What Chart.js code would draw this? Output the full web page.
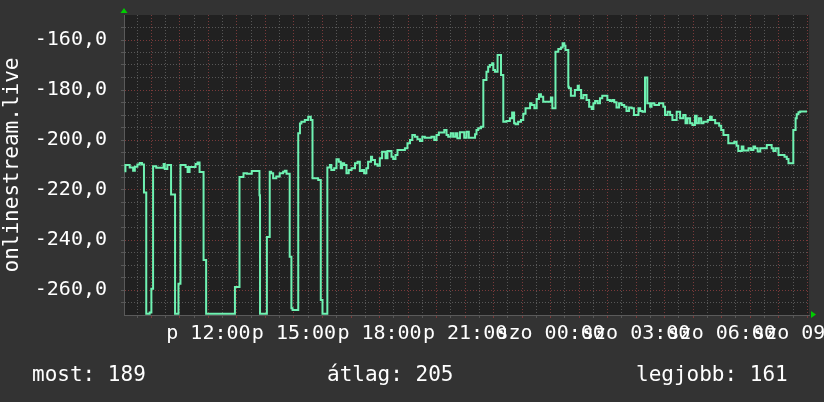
<!DOCTYPE html>
<html><head><meta charset="utf-8">
<script src="https://cdn.jsdelivr.net/npm/chart.js@4"></script>
<style>
html,body{margin:0;padding:0;background:#333333;}
#wrap{position:relative;width:824px;height:402px;overflow:hidden;}
canvas{display:block;}
.stat{position:absolute;top:362px;line-height:24px;font-family:'DejaVu Sans Mono',monospace;font-size:21px;color:#ffffff;white-space:pre;}
</style></head><body>
<div id="wrap"><canvas id="c" width="824" height="402"></canvas>
<div class="stat" id="s0" style="left:32px"></div>
<div class="stat" id="s1" style="left:327px"></div>
<div class="stat" id="s2" style="left:636px"></div>
</div>
<script>
// time of each step start (hours since Friday 00:00)
const times = [9.06,9.09,9.24,9.36,9.42,9.51,9.59,9.67,9.74,9.82,9.94,10.00,10.06,10.17,10.43,10.47,10.56,10.69,10.83,10.95,11.02,11.20,11.27,11.34,11.55,11.62,11.69,11.83,11.92,12.93,13.09,13.23,13.35,13.52,13.79,13.81,14.05,14.15,14.20,14.27,14.38,14.50,14.62,14.68,14.74,14.85,14.91,14.95,15.15,15.21,15.26,15.38,15.50,15.59,15.65,15.85,15.94,16.00,16.17,16.26,16.31,16.41,16.49,16.57,16.64,16.69,16.76,16.84,16.92,17.02,17.14,17.23,17.31,17.39,17.46,17.54,17.60,17.70,17.74,17.84,17.93,18.01,18.09,18.21,18.28,18.42,18.48,18.56,18.63,18.89,18.98,19.07,19.15,19.24,19.33,19.42,19.50,19.59,19.82,19.92,20.00,20.08,20.27,20.35,20.41,20.50,20.58,20.66,20.73,20.82,20.97,21.05,21.13,21.35,21.40,21.46,21.56,21.64,21.75,21.81,21.87,21.95,21.99,22.05,22.14,22.26,22.34,22.45,22.57,22.65,22.72,22.77,22.86,22.96,23.04,23.12,23.28,23.33,23.43,23.51,23.59,23.66,23.74,24.01,24.06,24.17,24.27,24.36,24.42,24.48,24.52,24.62,24.64,24.71,24.85,24.95,24.99,25.07,25.15,25.26,25.35,25.44,25.50,25.56,25.65,25.73,25.81,25.99,26.08,26.16,26.23,26.31,26.40,26.49,26.58,26.66,26.75,26.84,26.92,27.08,27.14,27.22,27.31,27.39,27.49,27.54,27.64,27.80,27.95,28.01,28.10,28.19,28.27,28.42,28.54,28.65,28.73,28.80,28.89,28.97,29.06,29.12,29.20,29.28,29.36,29.51,29.59,29.65,29.77,29.91,29.98,30.06,30.23,30.44,30.52,30.58,30.70,30.76,30.94,31.03,31.11,31.17,31.26,31.35,31.58,31.75,31.81,31.89,31.99,32.20,32.28,32.34,32.51,32.59,32.63,32.69,32.75,32.99];
// onlinestream.live values
const values = [-212.5,-210.0,-211.0,-212.3,-210.7,-209.8,-209.2,-209.8,-221.0,-269.5,-269.0,-259.5,-210.5,-211.1,-209.6,-211.6,-210.0,-221.8,-269.5,-257.5,-210.0,-210.8,-212.8,-210.8,-209.6,-209.0,-212.8,-248.0,-269.5,-258.8,-214.8,-213.3,-213.5,-212.4,-222.1,-269.5,-238.8,-212.7,-213.3,-215.3,-214.6,-213.3,-212.7,-212.3,-213.5,-246.7,-267.3,-268.0,-197.3,-193.4,-192.7,-192.0,-190.7,-192.0,-215.3,-216.0,-264.0,-269.5,-211.0,-210.0,-212.0,-211.3,-207.7,-208.7,-211.3,-209.3,-210.0,-213.3,-212.0,-211.3,-209.3,-208.7,-212.4,-212.0,-213.3,-211.3,-208.7,-206.7,-208.0,-209.7,-210.3,-207.3,-204.7,-207.3,-204.4,-206.7,-207.6,-206.0,-204.0,-203.3,-201.3,-200.0,-198.0,-198.7,-199.7,-200.4,-198.7,-199.1,-198.7,-200.0,-198.0,-197.0,-196.0,-198.0,-198.7,-197.3,-198.7,-197.3,-199.3,-196.9,-199.1,-196.7,-199.1,-197.7,-196.0,-195.3,-194.7,-176.0,-172.7,-170.7,-170.0,-169.3,-172.0,-172.7,-166.0,-174.0,-192.7,-192.4,-191.3,-189.0,-193.3,-193.7,-192.7,-192.0,-189.5,-187.3,-185.3,-186.0,-187.3,-183.6,-181.7,-182.7,-184.7,-183.0,-187.3,-164.7,-163.6,-163.0,-161.3,-162.3,-164.0,-178.7,-179.3,-182.3,-180.0,-178.3,-180.0,-183.3,-182.0,-184.0,-186.7,-187.6,-185.3,-184.4,-185.3,-183.3,-182.3,-184.0,-184.4,-184.0,-184.9,-187.0,-185.3,-186.0,-186.7,-188.4,-187.0,-187.3,-190.0,-187.3,-188.4,-188.7,-175.0,-185.3,-186.7,-185.3,-186.0,-185.3,-186.7,-190.0,-188.7,-190.0,-192.0,-188.7,-191.3,-190.0,-193.3,-191.3,-193.3,-194.0,-190.3,-193.3,-191.3,-193.3,-192.7,-192.0,-190.7,-192.0,-193.3,-194.3,-196.0,-198.0,-201.3,-200.7,-202.3,-204.4,-202.6,-204.2,-203.3,-204.0,-202.6,-203.3,-204.6,-203.3,-202.0,-203.3,-204.4,-203.3,-206.0,-206.7,-207.6,-209.3,-196.0,-191.3,-189.7,-188.9,-188.6,-188.6];
const xLabelHours = [12,15,18,21,24,27,30,33];
const xLabels = ['p 12:00','p 15:00','p 18:00','p 21:00','szo 00:00','szo 03:00','szo 06:00','szo 09:00'];
const yLabelValues = [-260,-240,-220,-200,-180,-160];
const yLabels = ['-260,0','-240,0','-220,0','-200,0','-180,0','-160,0'];
const seriesName = 'onlinestream.live';
const statNames = ['most','átlag','legjobb'];
const statValues = [189,205,161];

const FONT = "'DejaVu Sans Mono', monospace";
const MINOR = '#575757';
const MAJOR = '#7a3a3a';

statNames.forEach((n,i)=>{ document.getElementById('s'+i).textContent = n + ': ' + statValues[i]; });

const bgPlugin = {
  id: 'bg',
  beforeDraw(chart) {
    const {ctx, chartArea: a} = chart;
    ctx.save();
    ctx.fillStyle = '#333333';
    ctx.fillRect(0, 0, chart.width, chart.height);
    ctx.fillStyle = '#212121';
    ctx.fillRect(a.left, a.top, a.right - a.left, a.bottom - a.top);
    ctx.restore();
  },
  afterDraw(chart) {
    const {ctx, chartArea: a} = chart;
    ctx.save();
    ctx.fillStyle = '#00cc00';
    ctx.beginPath();
    ctx.moveTo(a.left - 3.5, a.top - 2);
    ctx.lineTo(a.left + 3.5, a.top - 2);
    ctx.lineTo(a.left, a.top - 7);
    ctx.closePath(); ctx.fill();
    ctx.beginPath();
    ctx.moveTo(a.right + 2, a.bottom - 4);
    ctx.lineTo(a.right + 2, a.bottom + 3);
    ctx.lineTo(a.right + 7, a.bottom - 0.5);
    ctx.closePath(); ctx.fill();
    ctx.restore();
  }
};

const xTicks = [];
for (let i = 19; i <= 66; i++) xTicks.push(i * 0.5);
const yTicks = [];
for (let v = -265; v <= -155; v += 5) yTicks.push(v);

new Chart(document.getElementById('c'), {
  type: 'line',
  data: {
    datasets: [{
      label: seriesName,
      data: times.map((t, i) => ({x: t, y: values[i]})),
      borderColor: '#6ff2b2',
      borderWidth: 2,
      pointRadius: 0,
      stepped: true,
      fill: false,
      tension: 0
    }]
  },
  options: {
    responsive: false,
    animation: false,
    devicePixelRatio: 1,
    layout: { autoPadding: false, padding: { top: 15, right: 15, bottom: 0, left: 0 } },
    plugins: { legend: { display: false }, tooltip: { enabled: false } },
    scales: {
      x: {
        type: 'linear',
        min: 9.04, max: 33.06,
        afterBuildTicks(scale) { scale.ticks = xTicks.map(v => ({value: v})); },
        afterFit(scale) { scale.height = 87; scale.paddingLeft = 0; scale.paddingRight = 0; },
        ticks: {
          autoSkip: false, maxRotation: 0, minRotation: 0,
          color: '#ffffff', font: { family: FONT, size: 20 }, padding: 4,
          callback(v) { const i = xLabelHours.indexOf(v); return i >= 0 ? xLabels[i] : ''; }
        },
        grid: {
          color: c => Number.isInteger(c.tick.value) ? MAJOR : MINOR,
          tickColor: c => Number.isInteger(c.tick.value) ? MAJOR : MINOR,
          lineWidth: 1, tickLength: 3, drawTicks: true
        },
        border: { display: true, color: '#5a5a5a', width: 1, dash: [1, 2] }
      },
      y: {
        min: -270, max: -150,
        afterBuildTicks(scale) { scale.ticks = yTicks.map(v => ({value: v})); },
        afterFit(scale) { scale.width = 124; scale.paddingTop = 0; scale.paddingBottom = 0; },
        ticks: {
          autoSkip: false, color: '#ffffff', font: { family: FONT, size: 20 }, padding: 14,
          callback(v) { const i = yLabelValues.indexOf(v); return i >= 0 ? yLabels[i] : ''; }
        },
        title: {
          display: true, text: seriesName, color: '#ffffff',
          font: { family: FONT, size: 21 }, padding: { top: 0, bottom: 0 }
        },
        grid: {
          color: c => (c.tick.value % 20 === 0) ? MAJOR : MINOR,
          tickColor: MINOR,
          lineWidth: 1, tickLength: 3, drawTicks: true
        },
        border: { display: true, color: '#5a5a5a', width: 1, dash: [1, 2] }
      }
    }
  },
  plugins: [bgPlugin]
});
</script>
</body></html>
